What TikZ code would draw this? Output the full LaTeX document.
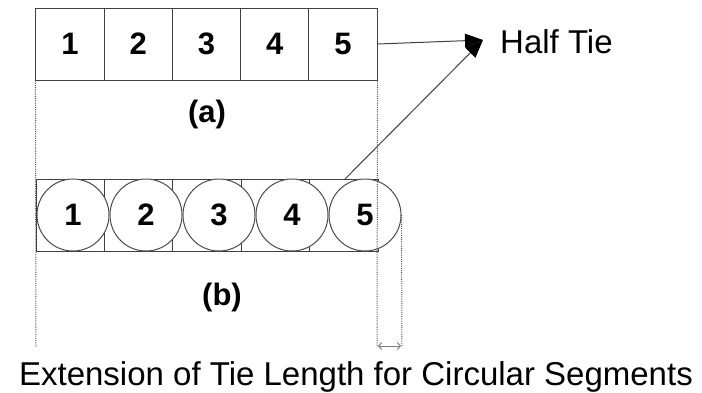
\documentclass[tikz,border=0pt]{standalone}
\usepackage{fontspec}
\setmainfont{Liberation Sans}
\usetikzlibrary{arrows.meta}
\begin{document}
\begin{tikzpicture}[x=1pt,y=-1pt,
  cellbox/.style={draw=black!75,line width=1pt,minimum width=68.3pt,minimum height=72pt,inner sep=0pt,
    font=\fontsize{31}{31}\selectfont\bfseries},
  rowcell/.style={draw=black!75,line width=1pt,minimum width=68.4pt,minimum height=72pt,inner sep=0pt},
  disc/.style={circle,draw=black!70,line width=1pt,fill=white,minimum size=72pt,inner sep=0pt,
    font=\fontsize{31}{31}\selectfont\bfseries},
  lbl/.style={font=\fontsize{31}{31}\selectfont\bfseries,inner sep=0pt},
  bigtxt/.style={font=\fontsize{33}{33}\selectfont,inner sep=0pt},
  dotline/.style={draw=black!70,line width=1pt,dash pattern=on 1pt off 1.2pt},
  arr/.style={draw=black!75,line width=1pt,-{Triangle[length=18pt,width=14pt,color=black,fill=black]}}
]
\useasboundingbox (0,0) rectangle (702,392);
% top row
\foreach \i in {1,...,5}{
  \node[cellbox] (t\i) at ({36+68.2*(\i-0.5)},44) {\i};
}
% bottom row cells
\foreach \i in {1,...,5}{
  \node[rowcell] (b\i) at ({36+68.4*(\i-0.5)},215) {};
}
% circles
\foreach \i in {1,...,5}{
  \node[disc] (c\i) at ({73+73*(\i-1)},215) {\i};
}
% labels
\node[lbl,anchor=base] (la) at (207,122) {(a)};
\node[lbl,anchor=base] (lb) at (222,305) {(b)};
\node[bigtxt,anchor=base west] (half) at (500,53) {Half Tie};
\node[bigtxt,anchor=base] (ext) at (356,385) {Extension of Tie Length for Circular Segments};
% dotted guides
\coordinate (lbot) at (36,347);
\coordinate (rbot) at (377,347);
\coordinate (ebot) at (402,347);
\draw[dotline] (t1.south west) -- (lbot);
\draw[dotline] (t5.south east) -- (rbot);
\draw[dotline] (c5.east) -- (ebot);
% extension arrow
\coordinate (da) at (378,346);
\coordinate (db) at (401,346);
\draw[draw=black!50,line width=1pt,{Straight Barb[length=3pt,width=7pt]}-{Straight Barb[length=3pt,width=7pt]}] (da) -- (db);
% arrows to Half Tie
\coordinate (tip) at (483,40);
\coordinate (s2) at (345,179);
\draw[arr] (t5.east) -- (tip);
\draw[arr] (s2) -- (tip);
\end{tikzpicture}
\end{document}
